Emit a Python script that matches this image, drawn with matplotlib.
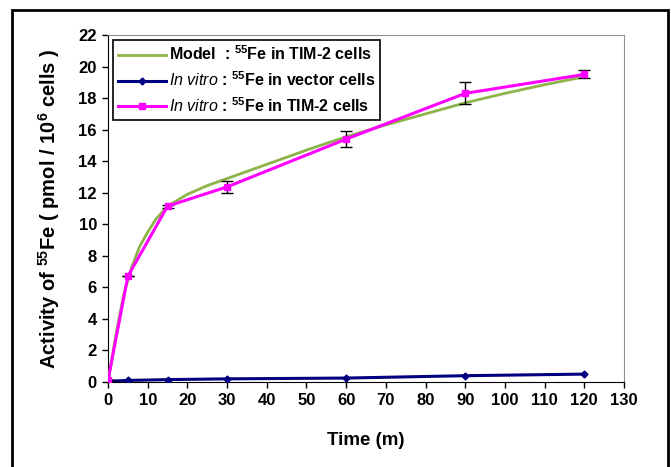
import matplotlib
matplotlib.use("Agg")
import matplotlib.pyplot as plt
from matplotlib.patches import Rectangle
from matplotlib.lines import Line2D

plt.rcParams['font.family'] = ['Liberation Sans', 'DejaVu Sans']
plt.rcParams['mathtext.fontset'] = 'custom'
plt.rcParams['mathtext.rm'] = 'Liberation Sans:bold'
plt.rcParams['mathtext.bf'] = 'Liberation Sans:bold'
plt.rcParams['mathtext.it'] = 'Liberation Sans:italic'

# Data
model_t = [0, 2, 4, 6, 8, 10, 12, 15, 20, 25, 30, 40, 50, 60, 70, 80, 90, 100, 110, 120]
model_v = [0.0, 3.0, 5.6, 7.3, 8.6, 9.5, 10.3, 11.15, 11.9, 12.45, 12.9, 13.8, 14.7, 15.55, 16.3, 17.0, 17.7, 18.3, 18.85, 19.35]

vitro_t = [0, 5, 15, 30, 60, 90, 120]
vector_v = [0.05, 0.1, 0.15, 0.2, 0.25, 0.4, 0.5]
tim2_v = [0.1, 6.7, 11.15, 12.37, 15.4, 18.3, 19.5]
tim2_err = [0.0, 0.0, 0.1, 0.4, 0.5, 0.7, 0.25]

x_ticks = list(range(0, 131, 10))
y_ticks = list(range(0, 23, 2))

labels = [r'Model  : $^{55}$Fe in TIM-2 cells',
          r'$\mathit{In\ vitro}$ : $^{55}$Fe in vector cells',
          r'$\mathit{In\ vitro}$ : $^{55}$Fe in TIM-2 cells']

fig = plt.figure(figsize=(6.71, 4.67), dpi=100)
fig.patch.set_facecolor('white')
fig.add_artist(Rectangle((12/671, -0.05), (668-12)/671, 1.05 - 10/467,
                         transform=fig.transFigure, fill=False,
                         edgecolor='black', linewidth=2))

ax = fig.add_axes([108/671, 1-382/467, (624-108)/671, (382-35)/467])

ax.plot(model_t, model_v, color='#8CB449', linewidth=2.0, zorder=3)
ax.plot(vitro_t, vector_v, color='#000080', linewidth=2.2, marker='D',
        markersize=3.5, zorder=4)
ax.errorbar(vitro_t, tim2_v, yerr=tim2_err, color='#FF00FF', linewidth=2.2,
            marker='s', markersize=5, ecolor='black', elinewidth=1,
            capsize=4, capthick=1, zorder=5)

ax.set_xlim(0, 130)
ax.set_ylim(0, 22)
ax.set_xticks(x_ticks)
ax.set_yticks(y_ticks)
ax.tick_params(direction='out', length=4, width=1, labelsize=12, pad=4)
for lab in ax.get_xticklabels() + ax.get_yticklabels():
    lab.set_fontweight('bold')

for s in ['top', 'right']:
    ax.spines[s].set_color('#909090')
for s in ['left', 'bottom']:
    ax.spines[s].set_color('black')

ax.set_xlabel('Time (m)', fontsize=13.5, fontweight='bold', labelpad=17)
ax.set_ylabel(r'Activity of $^{55}$Fe ( pmol / 10$^{6}$ cells )',
              fontsize=14.5, fontweight='bold', labelpad=12)

handles = [Line2D([], [], color='#8CB449', linewidth=2.0),
           Line2D([], [], color='#000080', linewidth=2.2, marker='D', markersize=3.5),
           Line2D([], [], color='#FF00FF', linewidth=2.2, marker='s', markersize=5)]
leg = ax.legend(handles, labels, loc='upper left', bbox_to_anchor=(0.0, 1.0), frameon=True,
                fancybox=False, edgecolor='black', framealpha=1,
                prop={'weight': 'bold', 'size': 11.5}, handlelength=3.0,
                handletextpad=0.2, borderpad=0.3, labelspacing=0.45,
                borderaxespad=0.3)
leg.get_frame().set_linewidth(1.2)

fig.savefig('out.png', dpi=100)
